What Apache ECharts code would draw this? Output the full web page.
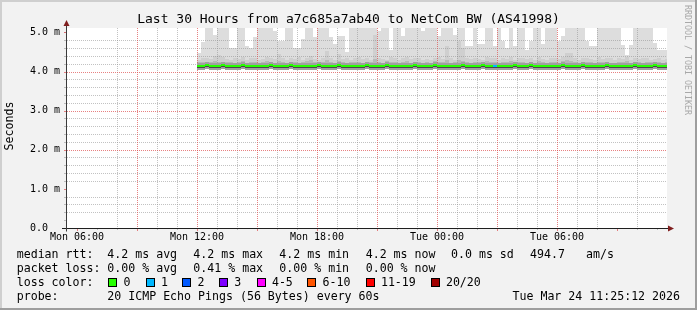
<!DOCTYPE html>
<html><head><meta charset="utf-8">
<script src="https://cdn.jsdelivr.net/npm/echarts@6/dist/echarts.min.js"></script>
<style>html,body{margin:0;padding:0;background:#f2f2f2}#c{width:697px;height:310px}</style>
</head><body><div id="c"></div>
<script>
// ---- time axis (hours since Mon 00:00) ----
const START = 5.5, END = 35.5;
const DATA_START = 12.0, STEP = 0.2;
const xLabelHours = [6, 12, 18, 24, 30];
const xLabelText = ['Mon 06:00', 'Mon 12:00', 'Mon 18:00', 'Tue 00:00', 'Tue 06:00'];
const xMajorHours = [6, 9, 12, 15, 18, 21, 24, 27, 30, 33];
const xMinorHours = [7, 8, 10, 11, 13, 14, 16, 17, 19, 20, 22, 23, 25, 26, 28, 29, 31, 32, 34, 35];
// ---- value axis (ms) ----
const Y_MAX = 5.12;
const yLabelValues = [0, 1, 2, 3, 4, 5];
const yLabelText = ['0.0', '1.0 m', '2.0 m', '3.0 m', '4.0 m', '5.0 m'];
const yMajor = [1, 2, 3, 4, 5];
const yMinor = [0.2, 0.4, 0.6, 0.8, 1.2, 1.4, 1.6, 1.8, 2.2, 2.4, 2.6, 2.8, 3.2, 3.4, 3.6, 3.8, 4.2, 4.4, 4.6, 4.8, 5.0];

// ---- smoke columns (ms), one per 12 minutes from Mon 12:00 ----
const maxPing = [4.48,4.75,5.3,5.3,4.95,5.3,5.3,5.3,4.62,4.62,
 5.3,5.3,4.65,4.60,4.90,5.3,5.3,5.3,5.3,5.05,
 4.80,4.80,5.3,5.3,4.62,4.60,4.85,5.3,5.3,4.90,
 5.3,5.3,5.3,4.90,4.72,4.92,4.92,4.50,5.3,5.3,
 5.3,5.3,5.3,5.3,5.3,5.05,5.3,5.3,4.55,5.3,
 5.3,4.92,5.3,5.3,5.3,5.3,5.05,5.3,5.3,5.3,
 4.92,5.3,5.3,5.3,4.95,5.3,5.3,4.66,4.66,5.3,
 4.72,4.72,5.3,5.3,4.65,5.3,4.80,4.60,5.3,4.66,
 5.3,5.3,4.55,4.80,5.3,5.3,4.72,5.3,5.3,5.3,
 4.80,4.92,5.3,5.3,5.3,5.3,5.3,4.80,4.65,4.65,
 5.3,5.3,5.3,5.3,5.3,5.3,4.68,4.44,4.68,5.3,
 5.3,5.3,5.3,5.3,4.74,4.55,4.55,4.55];
const upperQ = [4.30,4.34,4.36,4.32,4.40,4.42,4.38,4.33,4.30,4.35,
 4.33,4.37,4.31,4.34,4.36,4.30,4.33,4.38,4.35,4.32,
 4.45,4.36,4.31,4.34,4.33,4.37,4.30,4.35,4.40,4.33,
 4.31,4.36,4.52,4.34,4.30,4.45,4.33,4.36,4.31,4.34,
 4.38,4.32,4.35,4.30,4.95,4.36,4.33,4.31,4.37,4.34,
 4.30,4.35,4.38,4.32,4.34,4.36,4.31,4.33,4.30,4.35,
 4.37,4.33,4.65,4.34,4.31,4.78,4.60,4.35,4.32,4.36,
 4.33,4.30,4.37,4.34,4.36,4.31,4.35,4.33,4.38,4.30,
 4.34,4.36,4.32,4.35,4.31,4.37,4.33,4.30,4.36,4.34,
 4.32,4.38,4.49,4.49,4.35,4.31,4.34,4.36,4.33,4.30,
 4.37,4.32,4.35,4.34,4.31,4.36,4.33,4.38,4.30,4.35,
 4.32,4.34,4.36,4.31,4.33,4.35,4.30,4.32];
const innerHi = [4.24,4.26,4.23,4.25,4.27,4.25,4.22,4.26,4.25,4.23,
 4.25,4.27,4.22,4.24,4.26,4.23,4.25,4.28,4.24,4.22,
 4.27,4.25,4.23,4.26,4.24,4.22,4.25,4.27,4.29,4.24,
 4.23,4.25,4.30,4.24,4.22,4.27,4.25,4.23,4.26,4.24,
 4.25,4.22,4.26,4.24,4.32,4.25,4.23,4.27,4.24,4.26,
 4.22,4.25,4.27,4.23,4.24,4.26,4.22,4.25,4.23,4.27,
 4.25,4.24,4.30,4.23,4.25,4.31,4.28,4.24,4.22,4.26,
 4.25,4.23,4.27,4.24,4.26,4.22,4.25,4.24,4.27,4.23,
 4.24,4.26,4.22,4.25,4.23,4.27,4.25,4.22,4.26,4.24,
 4.23,4.27,4.29,4.28,4.25,4.22,4.24,4.26,4.25,4.23,
 4.26,4.24,4.25,4.23,4.22,4.26,4.24,4.27,4.23,4.25,
 4.24,4.22,4.26,4.25,4.23,4.24,4.22,4.25];
const minPing = [4.09,4.08,4.09,4.10,4.08,4.09,4.07,4.09,4.10,4.08,
 4.09,4.08,4.10,4.09,4.07,4.09,4.08,4.10,4.09,4.08,
 4.09,4.10,4.08,4.09,4.07,4.09,4.10,4.08,4.09,4.09,
 4.08,4.10,4.09,4.07,4.09,4.08,4.10,4.09,4.08,4.09,
 4.10,4.09,4.08,4.09,4.07,4.10,4.09,4.08,4.09,4.10,
 4.08,4.09,4.10,4.08,4.09,4.07,4.09,4.10,4.08,4.09,
 4.09,4.08,4.10,4.09,4.08,4.07,4.09,4.10,4.09,4.08,
 4.10,4.09,4.08,4.09,4.08,4.09,4.07,4.10,4.09,4.08,
 4.09,4.10,4.08,4.09,4.07,4.09,4.10,4.08,4.09,4.10,
 4.08,4.09,4.10,4.09,4.08,4.07,4.09,4.10,4.08,4.09,
 4.10,4.08,4.09,4.07,4.09,4.10,4.08,4.09,4.09,4.08,
 4.09,4.10,4.08,4.09,4.07,4.09,4.10,4.09];
const median = [4.16,4.16,4.17,4.16,4.16,4.16,4.17,4.16,4.16,4.16,
 4.16,4.17,4.16,4.16,4.16,4.15,4.16,4.16,4.17,4.16,
 4.16,4.16,4.16,4.17,4.16,4.16,4.16,4.15,4.16,4.16,
 4.17,4.16,4.16,4.16,4.16,4.17,4.16,4.16,4.16,4.15,
 4.16,4.16,4.17,4.16,4.16,4.16,4.16,4.17,4.16,4.16,
 4.15,4.16,4.16,4.16,4.17,4.16,4.16,4.16,4.16,4.17,
 4.16,4.16,4.16,4.15,4.16,4.16,4.17,4.16,4.16,4.16,
 4.16,4.17,4.16,4.16,4.16,4.16,4.15,4.16,4.16,4.17,
 4.16,4.16,4.16,4.17,4.16,4.16,4.16,4.16,4.15,4.16,
 4.16,4.17,4.16,4.16,4.16,4.16,4.17,4.16,4.16,4.16,
 4.16,4.16,4.17,4.16,4.16,4.15,4.16,4.16,4.16,4.17,
 4.16,4.16,4.16,4.16,4.17,4.16,4.16,4.16];
const loss = [0,0,0,0,0,0,0,0,0,0, 0,0,0,0,0,0,0,0,0,0,
 0,0,0,0,0,0,0,0,0,0, 0,0,0,0,0,0,0,0,0,0,
 0,0,0,0,0,0,0,0,0,0, 0,0,0,0,0,0,0,0,0,0,
 0,0,0,0,0,0,0,0,0,0, 0,0,0,0,1,0,0,0,0,0,
 0,0,0,0,0,0,0,0,0,0, 0,0,0,0,0,0,0,0,0,0,
 0,0,0,0,0,0,0,0,0,0, 0,0,0,0,0,0,0,0];

const lossColors = ['#26ff00','#00b8ff','#0059ff','#7e00ff','#ff00ff','#ff5500','#ff0000','#a10000'];
const lossLabels = ['0','1','2','3','4-5','6-10','11-19','20/20'];

const titleText = 'Last 30 Hours from a7c685a7ab40 to NetCom BW (AS41998)';
const rttStats = ['4.2 ms avg', '4.2 ms max', '4.2 ms min', '4.2 ms now', '0.0 ms sd', '494.7', 'am/s'];
const lossStats = ['0.00 % avg', '0.41 % max', '0.00 % min', '0.00 % now'];
const probeText = '20 ICMP Echo Pings (56 Bytes) every 60s';
const dateText = 'Tue Mar 24 11:25:12 2026';

// ---- chart ----
const MONO = '"DejaVu Sans Mono", "Liberation Mono", monospace';
const chart = echarts.init(document.getElementById('c'), null, {width: 697, height: 310});

function colTime(i) { return DATA_START + i * STEP; }
const smokeData = maxPing.map((v, i) => [colTime(i), minPing[i], innerHi[i], upperQ[i], v]);
const medData = median.map((v, i) => [colTime(i), v, loss[i]]);

function colX(api, t) {
  return [Math.round(api.coord([t, 0])[0]), Math.round(api.coord([t + STEP, 0])[0])];
}
function renderSmoke(params, api) {
  const cs = params.coordSys;
  const t = api.value(0);
  const [xa, xb] = colX(api, t);
  const lo = api.value(1);
  const layers = [[api.value(4), '#dddddd'], [api.value(3), '#cfcfcf'], [api.value(2), '#b8b8b8']];
  const children = [];
  for (const [hi, fill] of layers) {
    const ya = Math.round(api.coord([t, lo])[1]);
    const yb = Math.round(api.coord([t, hi])[1]);
    const r = echarts.graphic.clipRectByRect({x: xa, y: yb, width: xb - xa, height: ya - yb},
      {x: cs.x, y: cs.y, width: cs.width, height: cs.height});
    if (r) children.push({type: 'rect', shape: r, style: {fill: fill}});
  }
  return {type: 'group', children: children};
}
function renderMedian(params, api) {
  const t = api.value(0);
  const [xa, xb] = colX(api, t);
  const y = Math.round(api.coord([t, api.value(1)])[1]);
  const c = lossColors[api.value(2)];
  return {type: 'group', children: [
    {type: 'rect', shape: {x: xa, y: y - 3, width: xb - xa, height: 7}, style: {fill: '#a0a0a0'}},
    {type: 'rect', shape: {x: xa, y: y + 1, width: xb - xa, height: 1}, style: {fill: '#484848'}},
    {type: 'rect', shape: {x: xa, y: y - 1, width: xb - xa, height: 2}, style: {fill: c}}
  ]};
}
const MINOR = 'rgba(143,143,143,0.55)';
const MAJOR = 'rgba(222,80,80,0.72)';
const DOT = [1, 1];
const labelStyle = {fontFamily: MONO, fontSize: 10, color: '#000'};

function xAxisOf(ticks, color, len, z, labels) {
  return {
    type: 'value', min: START, max: END, position: 'bottom', z: z,
    axisLine: {show: false},
    axisTick: {show: true, customValues: ticks, length: len, lineStyle: {color: color}},
    splitLine: {show: true, showMinLine: false, showMaxLine: false, lineStyle: {color: color, width: 1, type: DOT}},
    axisLabel: labels ? Object.assign({customValues: xLabelHours, margin: 4,
      formatter: v => xLabelText[xLabelHours.indexOf(v)]}, labelStyle) : {show: false}
  };
}
function yAxisOf(ticks, color, z, labels) {
  return {
    type: 'value', min: 0, max: Y_MAX, position: 'left', z: z,
    axisLine: {show: false},
    axisTick: {show: true, customValues: ticks, length: 3, lineStyle: {color: color}},
    splitLine: {show: true, showMinLine: false, showMaxLine: false, lineStyle: {color: color, width: 1, type: DOT}},
    axisLabel: labels ? Object.assign({customValues: yLabelValues, margin: 37, align: 'left',
      formatter: v => yLabelText[yLabelValues.indexOf(v)]}, labelStyle) : {show: false}
  };
}

chart.setOption({
  backgroundColor: '#f2f2f2',
  animation: false,
  grid: {left: 67, top: 28, width: 600, height: 200, show: true, backgroundColor: '#ffffff', borderWidth: 0},
  xAxis: [xAxisOf(xMajorHours, MAJOR, 3, 4, true), xAxisOf(xMinorHours, MINOR, 2, 3, false)],
  yAxis: [yAxisOf(yMajor, MAJOR, 4, true), yAxisOf(yMinor, MINOR, 3, false)],
  series: [
    {type: 'custom', name: 'smoke', clip: true, z: 2, renderItem: renderSmoke, data: smokeData, silent: true},
    {type: 'custom', name: 'median', clip: true, z: 5, renderItem: renderMedian, data: medData, silent: true}
  ]
});

// ---- frame, axes, texts ----
const bl = chart.convertToPixel({gridIndex: 0}, [START, 0]);
const tr = chart.convertToPixel({gridIndex: 0}, [END, Y_MAX]);
const axX = Math.round(bl[0]) - 0.5, axY = Math.round(bl[1]) + 0.5, rightX = Math.round(tr[0]);
const g = [];
g.push({type: 'rect', shape: {x: 0, y: 0, width: 697, height: 2}, style: {fill: '#cfcfcf'}, z: 1});
g.push({type: 'rect', shape: {x: 0, y: 0, width: 2, height: 310}, style: {fill: '#cfcfcf'}, z: 1});
g.push({type: 'rect', shape: {x: 0, y: 308, width: 697, height: 2}, style: {fill: '#9e9e9e'}, z: 1});
g.push({type: 'rect', shape: {x: 695, y: 0, width: 2, height: 310}, style: {fill: '#9e9e9e'}, z: 1});
g.push({type: 'rect', shape: {x: axX - 4.5, y: axY - 0.5, width: rightX - axX + 6, height: 1}, style: {fill: '#1f1f1f'}, z: 10});
g.push({type: 'polygon', shape: {points: [[rightX + 1, axY - 3], [rightX + 7, axY], [rightX + 1, axY + 3]]}, style: {fill: '#801f1f'}, z: 10});
g.push({type: 'rect', shape: {x: axX - 0.5, y: 25, width: 1, height: axY + 3 - 25}, style: {fill: '#3a3a3a'}, z: 10});
g.push({type: 'polygon', shape: {points: [[axX - 3, 26], [axX, 20], [axX + 3, 26]]}, style: {fill: '#801f1f'}, z: 10});
g.push({type: 'text', x: 348.5, y: 19.5, style: {text: titleText, font: '13px ' + MONO, fill: '#000', align: 'center', verticalAlign: 'middle'}, z: 10});
g.push({type: 'text', x: 10, y: 126, rotation: Math.PI / 2, style: {text: 'Seconds', font: '11.6px ' + MONO, fill: '#000', align: 'center', verticalAlign: 'middle'}, z: 10});
g.push({type: 'text', x: 687.5, y: 5, rotation: -Math.PI / 2, style: {text: 'RRDTOOL / TOBI OETIKER', font: '8.3px ' + MONO, fill: '#a8a8a8', align: 'left', verticalAlign: 'middle'}, z: 10});
const LF = '11.6px ' + MONO;
function txt(x, y, s, align) {
  g.push({type: 'text', x: x, y: y, style: {text: s, font: LF, fill: '#000', align: align || 'left', verticalAlign: 'middle'}, z: 10});
}
const rowY = [254.5, 268.5, 282.5, 296.5];
const colXs = [107.3, 193.3, 279.3, 365.7, 451, 530, 586];
txt(16.7, rowY[0], 'median rtt:');
rttStats.forEach((s, i) => txt(colXs[i], rowY[0], s));
txt(16.7, rowY[1], 'packet loss:');
lossStats.forEach((s, i) => txt(colXs[i], rowY[1], s));
txt(16.7, rowY[2], 'loss color:');
const boxXs = [108.3, 145.7, 182.3, 219, 256.7, 307.3, 365.7, 430.7];
lossLabels.forEach((s, i) => {
  const bx = Math.round(boxXs[i]);
  g.push({type: 'rect', shape: {x: bx, y: 278, width: 9, height: 9}, style: {fill: '#000'}, z: 10});
  g.push({type: 'rect', shape: {x: bx + 1, y: 279, width: 7, height: 7}, style: {fill: lossColors[i]}, z: 11});
  txt(boxXs[i] + 15.2, rowY[2], s);
});
txt(16.7, rowY[3], 'probe:');
txt(107.3, rowY[3], probeText);
txt(680, rowY[3], dateText, 'right');
chart.setOption({graphic: {elements: g}});
</script>
</body></html>
